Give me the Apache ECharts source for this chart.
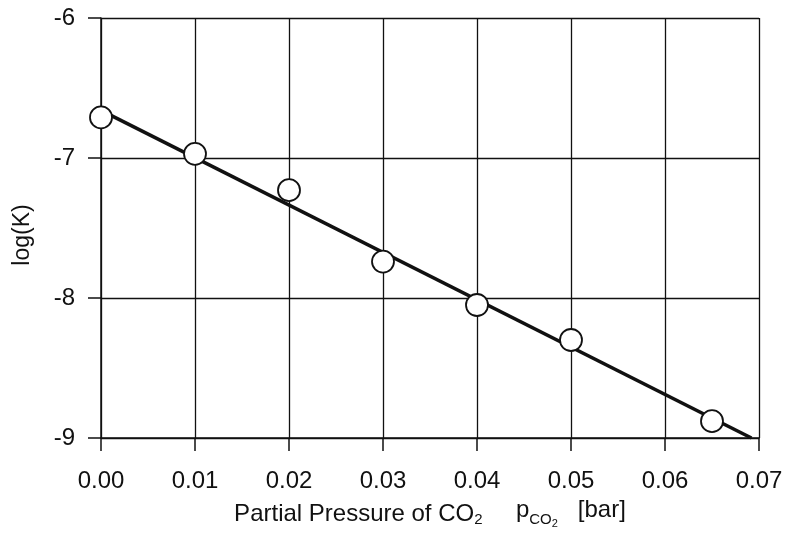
<!DOCTYPE html>
<html><head><meta charset="utf-8">
<script src="https://cdn.jsdelivr.net/npm/echarts@6/dist/echarts.min.js"></script>
<style>html,body{margin:0;padding:0;background:#fff}#c{width:787px;height:544px}</style>
</head><body><div id="c"></div>
<script>
const pressure = [0.00, 0.01, 0.02, 0.03, 0.04, 0.05, 0.065];
const logK = [-6.71, -6.97, -7.23, -7.74, -8.05, -8.30, -8.88];
const fitX = [0.0, 0.0692];
const fitY = [-6.66, -9.0];
const xTicks = [0, 0.01, 0.02, 0.03, 0.04, 0.05, 0.06, 0.07];
const yTicks = [-9, -8, -7, -6];

const FONT = '"Liberation Sans", Arial, Helvetica, sans-serif';
const INK = '#111';
const chart = echarts.init(document.getElementById('c'));
chart.setOption({
  animation: false,
  backgroundColor: '#fff',
  grid: { left: 101, right: 28, top: 18, bottom: 106 },
  xAxis: {
    type: 'value', min: 0, max: 0.07, interval: 0.01,
    axisLine: { show: true, onZero: false, lineStyle: { color: INK, width: 1.5 } },
    axisTick: { show: true, inside: false, length: 13, lineStyle: { color: INK, width: 1.5 } },
    splitLine: { show: true, lineStyle: { color: INK, width: 1.3 } },
    axisLabel: { margin: 31, color: INK, fontFamily: FONT, fontSize: 24,
      formatter: v => v.toFixed(2) },
    name: 'Partial Pressure of CO{s1|2}     {m2|p}{s1|CO}{s2|2}   {m|[bar]}',
    nameLocation: 'middle', nameGap: 99,
    nameTextStyle: {
      color: INK, fontFamily: FONT, fontSize: 24, verticalAlign: 'bottom', padding: [0,0,8,0],
      rich: {
        m: { fontSize: 24, fontFamily: FONT, color: INK, verticalAlign: 'bottom', padding: [0,0,8,0] },
        m2: { fontSize: 24, fontFamily: FONT, color: INK, verticalAlign: 'bottom', padding: [0,0,8,0] },
        s1: { fontSize: 15, fontFamily: FONT, color: INK, verticalAlign: 'bottom', padding: [0,0,3,0] },
        s2: { fontSize: 11, fontFamily: FONT, color: INK, verticalAlign: 'bottom', padding: [0,0,0,0] }
      }
    }
  },
  yAxis: {
    type: 'value', min: -9, max: -6, interval: 1,
    axisLine: { show: true, lineStyle: { color: INK, width: 1.5 } },
    axisTick: { show: true, inside: false, length: 13, lineStyle: { color: INK, width: 1.5 } },
    splitLine: { show: true, lineStyle: { color: INK, width: 1.3 } },
    axisLabel: { margin: 26, color: INK, fontFamily: FONT, fontSize: 24 },
    name: 'log(K)', nameLocation: 'middle', nameGap: 67, nameRotate: 90,
    nameTextStyle: { color: INK, fontFamily: FONT, fontSize: 23, padding: [0, 14, 0, 0] }
  },
  series: [
    {
      type: 'line', data: fitX.map((x, i) => [x, fitY[i]]),
      symbol: 'none', lineStyle: { color: INK, width: 3.6 }, z: 3
    },
    {
      type: 'scatter', data: pressure.map((x, i) => [x, logK[i]]),
      symbol: 'circle', symbolSize: 22,
      itemStyle: { color: '#fff', borderColor: INK, borderWidth: 1.8, opacity: 1 }, z: 5
    }
  ]
});
</script></body></html>
